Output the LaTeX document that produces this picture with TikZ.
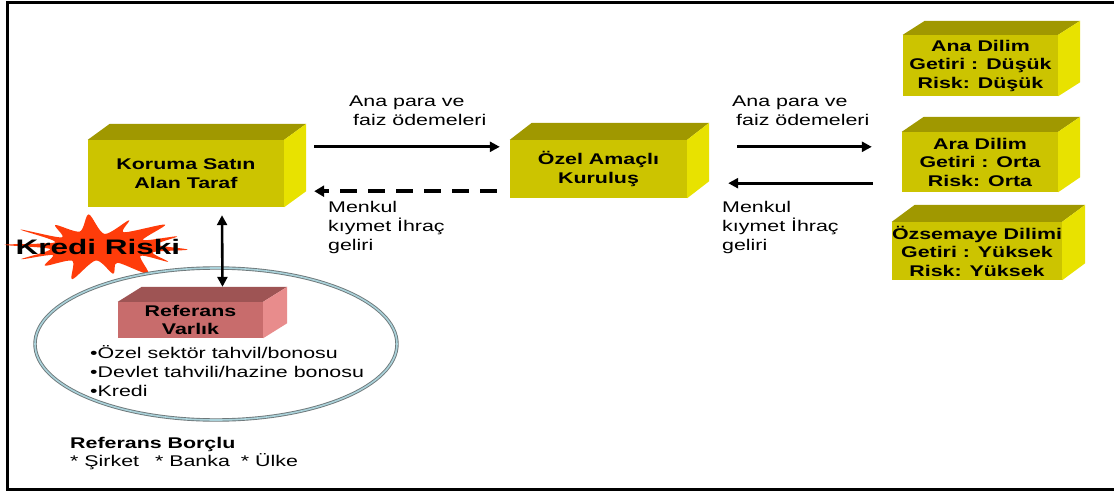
\documentclass[tikz,border=0pt]{standalone}
\usepackage{fontspec}
\setmainfont{Liberation Sans}[FakeStretch=1.38]
\newfontfamily\krfont{Liberation Sans}[FakeStretch=1.5]
\usetikzlibrary{arrows.meta,calc}
\definecolor{yfront}{RGB}{204,196,0}
\definecolor{ytop}{RGB}{160,152,0}
\definecolor{yside}{RGB}{232,226,0}
\definecolor{pfront}{RGB}{200,108,108}
\definecolor{ptop}{RGB}{158,84,84}
\definecolor{pside}{RGB}{232,140,140}
\definecolor{burst}{RGB}{255,60,10}
\definecolor{ellout}{RGB}{110,120,122}
\definecolor{ellin}{RGB}{170,210,218}
\tikzset{
  box/.style={fill=yfront, inner sep=0pt, align=center,
    font=\bfseries\fontsize{15.5}{18.5}\selectfont},
  lbl/.style={anchor=north west, inner sep=0pt, align=left,
    font=\fontsize{15.5}{19}\selectfont},
  arr/.style={line width=2.6pt, -{Triangle[length=10pt,width=10pt]}},
  darr/.style={line width=3.6pt, dash pattern=on 17pt off 11pt, -{Triangle[length=10pt,width=11pt]}},
}
\newcommand\drawcube[5]{%
  \fill[#4] (#1.north west) -- ++(#2,-#3) -- ($(#1.north east)+(#2,-#3)$) -- (#1.north east) -- cycle;
  \fill[#5] (#1.north east) -- ++(#2,-#3) -- ($(#1.south east)+(#2,-#3)$) -- (#1.south east) -- cycle;
}
\begin{document}
\begin{tikzpicture}[x=1pt,y=-1pt]
\useasboundingbox (0,0) rectangle (1114,492);
\fill[white] (0,0) rectangle (1114,492);
% frame
\draw[line width=3pt] (1114,3) -- (7,3) -- (7,489) -- (1114,489);

% starburst
\fill[burst] plot[samples at={0,...,27}, smooth cycle=false]
  ({100+(mod(\x,2)==0 ? 88 : 52)*(1+0.10*sin(\x*137))*cos(\x*360/28+5)},
   {247+(mod(\x,2)==0 ? 30 : 15)*(1+0.15*sin(\x*97))*sin(\x*360/28+5)}) -- cycle;
\node[anchor=center, inner sep=0pt, font=\krfont\bfseries\fontsize{21}{24}\selectfont] (kr) at (98,247) {Kredi Riski};

% ellipse
\draw[ellout, line width=0.9pt, double=ellin, double distance=1.6pt] (216,344) ellipse [x radius=181, y radius=76];

% boxes
\node[box, minimum width=196pt, minimum height=67pt] (kor) at (186,173.5) {Koruma Satın\\Alan Taraf};
\drawcube{kor}{22}{16}{ytop}{yside}
\node[box, minimum width=177pt, minimum height=58pt] (ozel) at (598.5,169) {Özel Amaçlı\\Kuruluş};
\drawcube{ozel}{22}{17}{ytop}{yside}
\node[box, minimum width=155pt, minimum height=61pt] (ana) at (980.5,65.5) {Ana Dilim\\Getiri : Düşük\\Risk: Düşük};
\drawcube{ana}{22}{14}{ytop}{yside}
\node[box, minimum width=156pt, minimum height=60pt] (ara) at (980,162) {Ara Dilim\\Getiri : Orta\\Risk: Orta};
\drawcube{ara}{22}{15}{ytop}{yside}
\node[box, minimum width=170pt, minimum height=58pt] (ozs) at (977,251) {Özsemaye Dilimi\\Getiri : Yüksek\\Risk: Yüksek};
\drawcube{ozs}{23}{17}{ytop}{yside}
\node[box, fill=pfront, minimum width=145pt, minimum height=36pt] (ref) at (190.5,320) {Referans\\Varlık};
\drawcube{ref}{24}{15}{ptop}{pside}

% arrows
\draw[arr] ([shift={(30,7)}]kor.north east) -- ([shift={(-10,7)}]ozel.north west);
\draw[darr] ([shift={(-13,-7)}]ozel.south west) -- ([shift={(30,-16)}]kor.south east);
\draw[arr] ([shift={(50,7)}]ozel.north east) -- ([shift={(-30,15)}]ara.north west);
\draw[arr] ([shift={(-29,-9)}]ara.south west) -- ([shift={(41,-15)}]ozel.south east);
\draw[line width=2.6pt, {Triangle[length=10pt,width=10pt]}-{Triangle[length=10pt,width=10pt]}]
  ([shift={(36,8)}]kor.south) -- ([shift={(32,-15)}]ref.north);

% labels
\node[lbl] (l1) at (349,96) {Ana para ve\\\hspace*{4pt}faiz ödemeleri};
\node[lbl] (l2) at (328,201) {Menkul\\kıymet İhraç\\geliri};
\node[lbl] (l3) at (732,96) {Ana para ve\\\hspace*{4pt}faiz ödemeleri};
\node[lbl] (l4) at (722,201) {Menkul\\kıymet İhraç\\geliri};

\node[lbl] (list) at (90,345) {•Özel sektör tahvil/bonosu\\•Devlet tahvili/hazine bonosu\\•Kredi};
\node[lbl, font=\bfseries\fontsize{15.5}{19}\selectfont] (rb) at (70,437) {Referans Borçlu};
\node[lbl] (rb2) at (70,453) {* Şirket\hspace*{10pt} * Banka\hspace*{5pt} * Ülke};
\end{tikzpicture}
\end{document}
